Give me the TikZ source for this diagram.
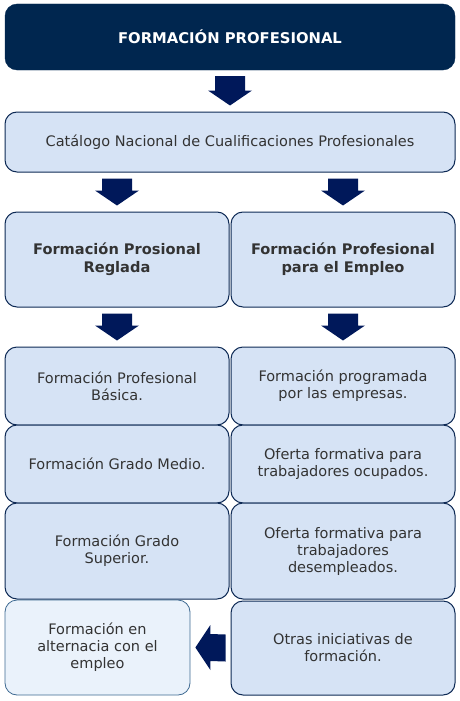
\documentclass[tikz,border=0pt]{standalone}
\usepackage{fontspec}
\setmainfont{DejaVu Sans}
\usetikzlibrary{calc}

\definecolor{navy}{HTML}{00264F}
\definecolor{arrowblue}{HTML}{00185A}
\definecolor{boxfill}{HTML}{D6E3F5}
\definecolor{boxline}{HTML}{0E2A55}
\definecolor{palefill}{HTML}{EAF2FB}
\definecolor{paleline}{HTML}{3E6A92}
\definecolor{txt}{HTML}{333333}

% block arrows: from the lower side of #1 down to the upper side of #2
\newcommand{\downarr}[2]{%
\fill[arrowblue] ($(#1)+(-15pt,-6pt)$) -- ($(#1)+(15pt,-6pt)$) -- ($(#2)+(15pt,21pt)$)
  -- ($(#2)+(22pt,21pt)$) -- ($(#2)+(0,6pt)$) -- ($(#2)+(-22pt,21pt)$)
  -- ($(#2)+(-15pt,21pt)$) -- cycle;}
% pointing left: from the west side of #1 to the east side of #2
\newcommand{\leftarr}[2]{%
\fill[arrowblue] ($(#1)+(-5pt,-13.5pt)$) -- ($(#1)+(-5pt,13.5pt)$) -- ($(#2)+(20pt,13.5pt)$)
  -- ($(#2)+(20pt,22.5pt)$) -- ($(#2)+(5pt,0)$) -- ($(#2)+(20pt,-22.5pt)$)
  -- ($(#2)+(20pt,-13.5pt)$) -- cycle;}

\begin{document}
\begin{tikzpicture}[x=1pt,y=1pt,font=\fontsize{14.5}{17}\selectfont,
  box/.style={draw=boxline,line width=1pt,fill=boxfill,rounded corners=12pt,
    text=txt,align=center,inner sep=0pt},
  headbox/.style={box,font=\bfseries\fontsize{14.6}{18}\selectfont},
  titlebox/.style={draw=navy,fill=navy,rounded corners=12pt,text=white,
    font=\bfseries\fontsize{14.8}{17}\selectfont},
  palebox/.style={box,draw=paleline,line width=0.8pt,fill=palefill}]
\useasboundingbox (0,0) rectangle (459,-701);

\node[titlebox,minimum width=450,minimum height=66] (fp) at(230,-37){FORMACIÓN PROFESIONAL};

\node[box,minimum width=450,minimum height=60] (cat) at(230,-142){Catálogo Nacional de Cualificaciones Profesionales};

\node[headbox,minimum width=224,minimum height=95] (rl) at(117,-259.5){Formación Prosional\\Reglada};
\node[headbox,minimum width=224,minimum height=95] (em) at(343,-259.5){Formación Profesional\\para el Empleo};

%left column
\node[box,minimum width=224,minimum height=78] (bas) at(117,-386){Formación Profesional\\Básica.};
\node[box,minimum width=224,minimum height=78] (gm) at(117,-464){Formación Grado Medio.};
\node[box,minimum width=224,minimum height=96] (gs) at(117,-551){Formación Grado\\Superior.};
\node[palebox,minimum width=185,minimum height=95] (alt) at(97.5,-647.5){Formación en\\alternacia con el\\empleo};

%right column
\node[box,minimum width=224,minimum height=78] (emp) at(343,-386){Formación programada\\por las empresas.};
\node[box,minimum width=224,minimum height=78] (ocu) at(343,-464){Oferta formativa para\\trabajadores ocupados.};
\node[box,minimum width=224,minimum height=96] (des) at(343,-551){Oferta formativa para\\trabajadores\\desempleados.};
\node[box,minimum width=224,minimum height=94] (otr) at(343,-648){Otras iniciativas de\\formación.};

\downarr{fp.south}{cat.north}
\downarr{rl.north |- cat.south}{rl.north}
\downarr{em.north |- cat.south}{em.north}
\downarr{rl.south}{bas.north}
\downarr{em.south}{emp.north}
\leftarr{otr.west}{alt.east}
\end{tikzpicture}
\end{document}
